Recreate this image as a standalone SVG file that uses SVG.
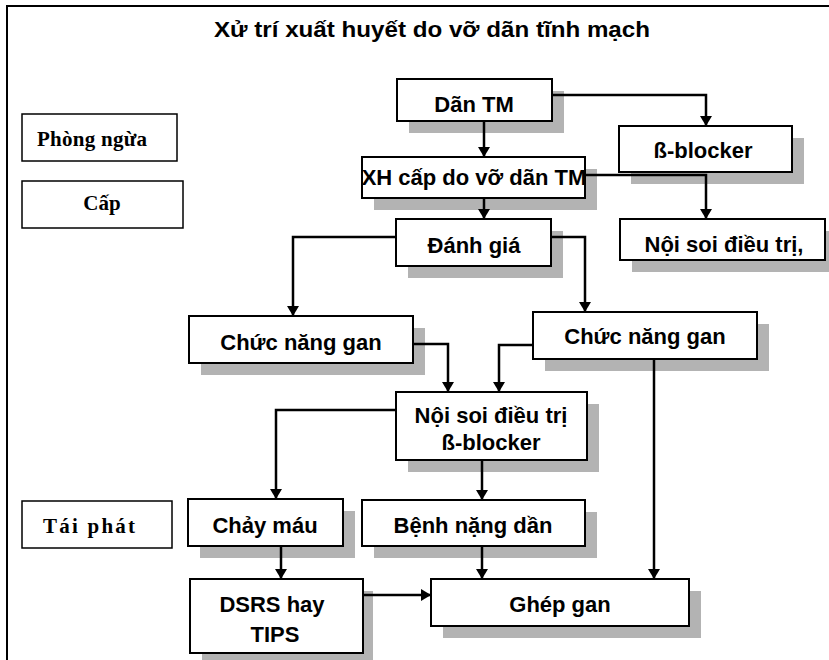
<svg xmlns="http://www.w3.org/2000/svg" width="829" height="660" viewBox="0 0 829 660">
<defs>
<marker id="arr" markerWidth="10" markerHeight="12" refX="10" refY="6" orient="auto" markerUnits="userSpaceOnUse">
<path d="M0,0 L10,6 L0,12 Z" fill="#000"/>
</marker>
<style>
.box{fill:#fff;stroke:#000;stroke-width:2}
.sh{fill:#b3b3b3}
.lbl{fill:#fff;stroke:#000;stroke-width:1.5}
.t{font-family:"Liberation Sans",Arial,sans-serif;font-weight:bold;fill:#000;text-anchor:middle;font-size:22px}
.s{font-family:"Liberation Serif","Times New Roman",serif;font-weight:bold;fill:#000;text-anchor:middle;font-size:21px}
.c{fill:none;stroke:#000;stroke-width:2.5;marker-end:url(#arr)}
</style>
</defs>
<rect width="829" height="660" fill="#fff"/>
<path d="M7,660 V6 H829" fill="none" stroke="#000" stroke-width="2"/>
<text x="432" y="37" font-family="'Liberation Sans Narrow','Liberation Sans',Arial,sans-serif" font-size="22" font-weight="bold" text-anchor="middle" textLength="436" lengthAdjust="spacingAndGlyphs">Xử trí xuất huyết do vỡ dãn tĩnh mạch</text>

<g id="phong-ngua"><rect class="lbl" x="22" y="114" width="155" height="47"/><text class="s" x="92" y="146" textLength="110" lengthAdjust="spacing">Phòng ngừa</text></g>
<g id="cap"><rect class="lbl" x="22" y="181" width="161" height="47"/><text class="s" x="102" y="210">Cấp</text></g>
<g id="tai-phat"><rect class="lbl" x="22" y="501" width="150" height="47"/><text class="s" x="89" y="533" font-size="22.5" textLength="92" lengthAdjust="spacing">Tái phát</text></g>

<g id="dan-tm"><rect class="sh" x="409" y="91" width="155" height="42"/><rect class="box" x="397" y="79" width="155" height="42"/><text class="t" x="474" y="112">Dãn TM</text></g>
<g id="beta-blocker"><rect class="sh" x="631" y="138" width="173" height="46"/><rect class="box" x="619" y="126" width="173" height="46"/><text class="t" x="703" y="158" font-size="23">ß-blocker</text></g>
<g id="xh-cap"><rect class="sh" x="374" y="169" width="223" height="41"/><rect class="box" x="362" y="157" width="223" height="41"/><text class="t" x="474" y="185" font-size="18">XH cấp do vỡ dãn TM</text></g>
<g id="noi-soi-1"><rect class="sh" x="632" y="231" width="205" height="41"/><rect class="box" x="620" y="219" width="205" height="41"/><text class="t" x="724" y="252" font-size="18.5">Nội soi điều trị,</text></g>
<g id="danh-gia"><rect class="sh" x="408" y="231" width="155" height="47"/><rect class="box" x="396" y="219" width="155" height="47"/><text class="t" x="474" y="253">Đánh giá</text></g>
<g id="chuc-nang-gan-1"><rect class="sh" x="201" y="328" width="224" height="47"/><rect class="box" x="189" y="316" width="224" height="47"/><text class="t" x="301" y="350">Chức năng gan</text></g>
<g id="chuc-nang-gan-2"><rect class="sh" x="545" y="324" width="224" height="47"/><rect class="box" x="533" y="312" width="224" height="47"/><text class="t" x="645" y="344">Chức năng gan</text></g>
<g id="noi-soi-2"><rect class="sh" x="408" y="404" width="191" height="68"/><rect class="box" x="396" y="392" width="191" height="68"/><text class="t" x="491" y="423" font-size="20">Nội soi điều trị</text><text class="t" x="491" y="450" font-size="20">ß-blocker</text></g>
<g id="chay-mau"><rect class="sh" x="200" y="511" width="155" height="47"/><rect class="box" x="188" y="499" width="155" height="47"/><text class="t" x="265" y="533" font-size="22.5">Chảy máu</text></g>
<g id="benh-nang"><rect class="sh" x="374" y="512" width="223" height="46"/><rect class="box" x="362" y="500" width="223" height="46"/><text class="t" x="473" y="533">Bệnh nặng dần</text></g>
<g id="dsrs"><rect class="sh" x="202" y="591" width="171" height="74"/><rect class="box" x="190" y="579" width="173" height="74"/><text class="t" x="272" y="612" font-size="23">DSRS hay</text><text class="t" x="275" y="642" font-size="23">TIPS</text></g>
<g id="ghep-gan"><rect class="sh" x="443" y="591" width="258" height="47"/><rect class="box" x="431" y="579" width="258" height="47"/><text class="t" x="560" y="612" font-size="22.5">Ghép gan</text></g>

<g id="connectors">
<path class="c" d="M484,121 V157"/>
<path class="c" d="M552,95 H706 V126"/>
<path class="c" d="M484,198 V219"/>
<path class="c" d="M585,175 H706 V219"/>
<path class="c" d="M396,237 H293 V316"/>
<path class="c" d="M551,237 H585 V312"/>
<path class="c" d="M413,344 H448 V392"/>
<path class="c" d="M533,345 H499 V392"/>
<path class="c" d="M654,359 V579"/>
<path class="c" d="M396,410 H276 V499"/>
<path class="c" d="M482,460 V500"/>
<path class="c" d="M281,546 V579"/>
<path class="c" d="M482,546 V579"/>
<path class="c" d="M363,595 H431"/>
</g>
</svg>
